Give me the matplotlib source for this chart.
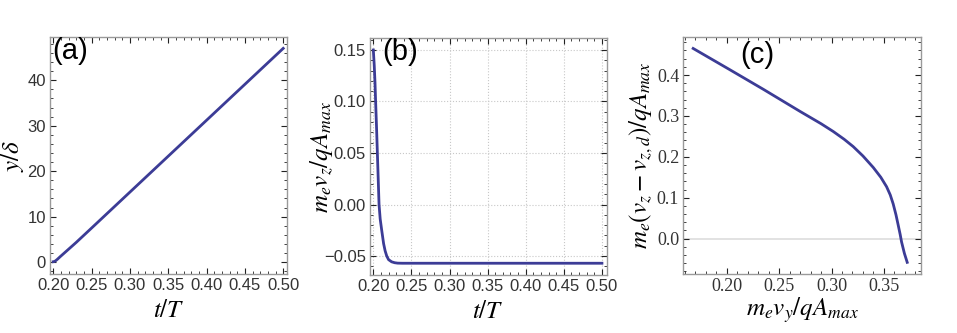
import matplotlib
matplotlib.use('Agg')
import matplotlib.pyplot as plt
from matplotlib.ticker import MultipleLocator
import numpy as np

plt.rcParams['mathtext.fontset'] = 'stix'

# (a) y/delta vs t/T
t_a = [0.200, 0.2015, 0.203, 0.2055, 0.209, 0.214, 0.220, 0.230, 0.250,
       0.300, 0.350, 0.400, 0.450, 0.500]
y_a = [0.1, 0.15, 0.3, 0.65, 1.2, 1.95, 2.85, 4.35, 7.5,
       15.4, 23.3, 31.2, 39.1, 47.0]

# (b) m_e v_z / qA_max vs t/T
t_b = [0.200, 0.2012, 0.2022, 0.203, 0.2042, 0.2053, 0.2064, 0.2075, 0.209,
       0.211, 0.2135, 0.2155, 0.2176, 0.220, 0.224, 0.228, 0.232, 0.238,
       0.250, 0.500]
v_b = [0.150, 0.135, 0.118, 0.100, 0.075, 0.050, 0.025, 0.000, -0.014,
       -0.025, -0.038, -0.045, -0.050, -0.0535, -0.0556, -0.0565, -0.0569,
       -0.057, -0.057, -0.057]

# (c) m_e (v_z - v_zd) / qA_max vs m_e v_y / qA_max
x_c = [0.168, 0.203, 0.235, 0.270, 0.290, 0.3016, 0.312, 0.3207, 0.330,
       0.3398, 0.347, 0.3525, 0.356, 0.3588, 0.3615, 0.3636, 0.3655, 0.3668,
       0.3695, 0.3722]
y_c = [0.465, 0.413, 0.365, 0.311, 0.281, 0.262, 0.243, 0.225, 0.202,
       0.174, 0.150, 0.127, 0.107, 0.085, 0.058, 0.033, 0.010, -0.008,
       -0.036, -0.058]

line_col = '#3c3c96'
frame_col = '#9a9a9a'
txt_col = '#333333'
x_labels = ['0.20', '0.25', '0.30', '0.35', '0.40', '0.45', '0.50']

fig = plt.figure(figsize=(9.57, 3.33), dpi=100)
ax_a = fig.add_axes([0.0522, 0.1772, 0.2476, 0.7117])
ax_b = fig.add_axes([0.3866, 0.1742, 0.2473, 0.7110])
ax_c = fig.add_axes([0.7140, 0.1772, 0.2480, 0.7117])


def style(ax, tickfont, size=12):
    for s in ax.spines.values():
        s.set_color(frame_col)
        s.set_linewidth(1.0)
    ax.tick_params(which='both', direction='in', top=True, right=True,
                   color='#222222', labelcolor=txt_col, labelsize=size)
    ax.tick_params(which='major', length=4, width=0.8, pad=3)
    ax.tick_params(which='minor', length=2, width=0.6)
    for lab in ax.get_xticklabels() + ax.get_yticklabels():
        lab.set_family(tickfont)


def labels(ax, xl, yl, ypos):
    ax.set_xlabel(xl, fontsize=18)
    ax.set_ylabel(yl, fontsize=18)
    ax.xaxis.set_label_coords(0.5, -0.152)
    ax.yaxis.set_label_coords(ypos, 0.5)
    ax.xaxis.label.set_va('center')
    ax.yaxis.label.set_va('center')


# panel (a)
ax_a.plot(t_a, y_a, color=line_col, lw=2)
ax_a.set_xlim(0.1957, 0.5048)
ax_a.set_ylim(-2.6, 49.5)
ax_a.set_xticks(np.arange(0.2, 0.501, 0.05))
ax_a.set_xticklabels(x_labels)
ax_a.xaxis.set_minor_locator(MultipleLocator(0.01))
ax_a.yaxis.set_major_locator(MultipleLocator(10))
ax_a.yaxis.set_minor_locator(MultipleLocator(2))
style(ax_a, 'Liberation Sans')
labels(ax_a, r'$t/T$', r'$y/\delta$', -0.16)
ax_a.text(0.01, 1.0, '(a)', transform=ax_a.transAxes, fontsize=21,
          family='Liberation Sans', va='top', ha='left')

# panel (b)
ax_b.plot(t_b, v_b, color=line_col, lw=2)
ax_b.set_xlim(0.1956, 0.5062)
ax_b.set_ylim(-0.0684, 0.1614)
ax_b.set_xticks(np.arange(0.2, 0.501, 0.05))
ax_b.set_xticklabels(x_labels)
ax_b.set_yticks([-0.05, 0.0, 0.05, 0.10, 0.15])
ax_b.set_yticklabels(['\u22120.05', '0.00', '0.05', '0.10', '0.15'])
ax_b.xaxis.set_minor_locator(MultipleLocator(0.01))
ax_b.yaxis.set_minor_locator(MultipleLocator(0.01))
ax_b.grid(True, which='major', color='#c8c8c8', ls=':', lw=0.8)
ax_b.set_axisbelow(True)
style(ax_b, 'Liberation Sans')
labels(ax_b, r'$t/T$', r'$m_e v_z/qA_{max}$', -0.203)
ax_b.text(0.05, 1.0, '(b)', transform=ax_b.transAxes, fontsize=21,
          family='Liberation Sans', va='top', ha='left')

# panel (c)
ax_c.axhline(0, color='#dddddd', lw=1.2, zorder=1)
ax_c.plot(x_c, y_c, color=line_col, lw=2, zorder=2)
ax_c.set_xlim(0.1586, 0.385)
ax_c.set_ylim(-0.0865, 0.493)
ax_c.set_xticks([0.20, 0.25, 0.30, 0.35])
ax_c.set_xticklabels(['0.20', '0.25', '0.30', '0.35'])
ax_c.set_yticks([0.0, 0.1, 0.2, 0.3, 0.4])
ax_c.set_yticklabels(['0.0', '0.1', '0.2', '0.3', '0.4'])
ax_c.xaxis.set_minor_locator(MultipleLocator(0.01))
ax_c.yaxis.set_minor_locator(MultipleLocator(0.02))
style(ax_c, 'Liberation Serif', size=13)
labels(ax_c, r'$m_e v_y/qA_{max}$', r'$m_e(v_z - v_{z,d})/qA_{max}$', -0.178)
ax_c.text(0.24, 0.985, '(c)', transform=ax_c.transAxes, fontsize=21,
          family='Liberation Sans', va='top', ha='left')

fig.savefig('out.png', dpi=100)
